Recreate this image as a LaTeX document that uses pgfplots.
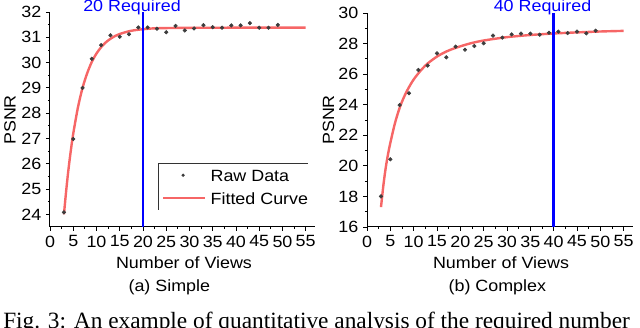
\documentclass[border=0pt]{standalone}
\usepackage{fontspec}
\setmainfont{Liberation Sans}[FakeStretch=1.1]
\newfontfamily\capfont{Liberation Serif}
\usepackage{pgfplots}
\pgfplotsset{compat=1.18}
\definecolor{fitred}{RGB}{245,85,85}
\definecolor{dotgray}{RGB}{60,60,60}
\definecolor{reqblue}{RGB}{0,0,255}
\newcommand{\fs}{\fontsize{12.2}{14}\selectfont}
\pgfplotsset{
  mystyle/.style={
    scale only axis,
    axis x line*=bottom, axis y line*=left,
    xmin=0, xmax=57, xtick={0,5,...,55},
    minor x tick num=1, minor y tick num=1,
    tick align=outside, major tick length=3pt, minor tick length=1.6pt,
    every tick/.style={black, line width=0.6pt},
    axis line style={black, line width=0.75pt},
    /pgf/number format/assume math mode=true,
    tick label style={font=\fs},
    clip=false,
  },
  rawdata/.style={only marks, mark=*, mark size=1.35pt, draw=dotgray, fill=dotgray},
  fitline/.style={no marks, smooth, color=fitred, line width=1.8pt, opacity=0.9},
}
\begin{document}
\begin{tikzpicture}[x=1pt,y=1pt]
% ---------------- (a) Simple ----------------
\begin{axis}[mystyle,
  at={(37.5pt,75.75pt)}, anchor=south west,
  width=198.75pt, height=161.25pt,
  ymin=23.5, ymax=32, ytick={24,25,...,32},
  legend style={at={(axis description cs:0.4215,0.2698)}, anchor=north west,
    draw=none, fill=none, inner sep=0pt, row sep=8.25pt, column sep=3.5pt,
    nodes={inner sep=0pt, text height=9pt, text depth=0pt, font=\fs}},
  legend cell align=left,
]
\addlegendimage{legend image code/.code={\path[draw=none,fill=none] (0pt,0pt) -- (31.2pt,0pt); \fill[dotgray, draw=none] (15pt,0pt) circle (1.35pt);}}
\addlegendentry{Raw Data}
\addlegendimage{legend image code/.code={\draw[fitred, line width=1.8pt, opacity=0.9] (0pt,0pt) -- (31.2pt,0pt);}}
\addlegendentry{Fitted Curve}
\addplot[rawdata, forget plot] coordinates {
(3,24.08) (5,26.98) (7,29.00) (9,30.15) (11,30.69) (13,31.08) (15,31.02) (17,31.12)
(19,31.39) (21,31.39) (23,31.34) (25,31.20) (27,31.45) (29,31.27) (31,31.35) (33,31.48)
(35,31.40) (37,31.38) (39,31.47) (41,31.47) (43,31.56) (45,31.38) (47,31.38) (49,31.49)};
\addplot[fitline, forget plot] coordinates {
(3,24.00) (3.5,24.97) (4,25.82) (4.5,26.55) (5,27.19) (6,28.22) (7,29.00) (8,29.58)
(9,30.03) (10,30.36) (11,30.61) (12,30.80) (13,30.94) (14,31.05) (15,31.13) (17,31.24)
(19,31.30) (22,31.35) (25,31.365) (30,31.375) (40,31.38) (55,31.38)};
\addplot[reqblue, line width=1.5pt, forget plot] coordinates {(20,23.5) (20,32)};
\end{axis}
% ---------------- (b) Complex ----------------
\begin{axis}[mystyle,
  at={(275.25pt,75.75pt)}, anchor=south west,
  width=199.5pt, height=160.5pt,
  ymin=16, ymax=30, ytick={16,18,...,30},
]
\addplot[rawdata] coordinates {
(3,18.00) (5,20.43) (7,23.98) (9,24.75) (11,26.27) (13,26.56) (15,27.36) (17,27.10)
(19,27.80) (21,27.60) (23,27.84) (25,28.02) (27,28.52) (29,28.39) (31,28.60) (33,28.65)
(35,28.65) (37,28.58) (39,28.71) (41,28.78) (43,28.69) (45,28.78) (47,28.67) (49,28.84)};
\addplot[fitline] coordinates {
(3,17.3) (3.5,18.7) (4,19.85) (4.5,20.75) (5,21.5) (6,22.8) (7,23.8) (8,24.55)
(9,25.15) (10,25.65) (11,26.05) (12,26.4) (13,26.7) (15,27.15) (17,27.48) (19,27.72)
(22,28.0) (25,28.2) (30,28.42) (35,28.56) (40,28.66) (45,28.73) (50,28.79) (55,28.83)};
\addplot[reqblue, line width=2.2pt] coordinates {(40,16) (40,30)};
\end{axis}
% legend frame (top and left edges)
\draw[black!80, line width=0.7pt] (118.7pt,88.5pt) -- (118.7pt,123.5pt) -- (231pt,123.5pt);
% texts
\node[anchor=base, text=reqblue, font=\fs, inner sep=0pt] at (99pt,237.2pt) {20 Required};
\node[anchor=base, text=reqblue, font=\fs, inner sep=0pt] at (406.9pt,237.2pt) {40 Required};
\node[rotate=90, font=\fs, inner sep=0pt] at (7.5pt,156pt) {PSNR};
\node[rotate=90, font=\fs, inner sep=0pt] at (246.4pt,156pt) {PSNR};
\node[font=\fs, inner sep=0pt] at (138pt,48.75pt) {Number of Views};
\node[font=\fs, inner sep=0pt] at (375.75pt,48.75pt) {Number of Views};
\node[font=\fs, inner sep=0pt] at (127pt,30.75pt) {(a) Simple};
\node[font=\fs, inner sep=0pt] at (373pt,30.75pt) {(b) Complex};
\node[anchor=base west, inner sep=0pt, font=\capfont\fontsize{17.5}{20}\selectfont] at (2.25pt,-0.4pt) {Fig. 3: An example of quantitative analysis of the required number};
\pgfresetboundingbox
\useasboundingbox (0pt,0pt) rectangle (480pt,246pt);
\end{tikzpicture}
\end{document}
